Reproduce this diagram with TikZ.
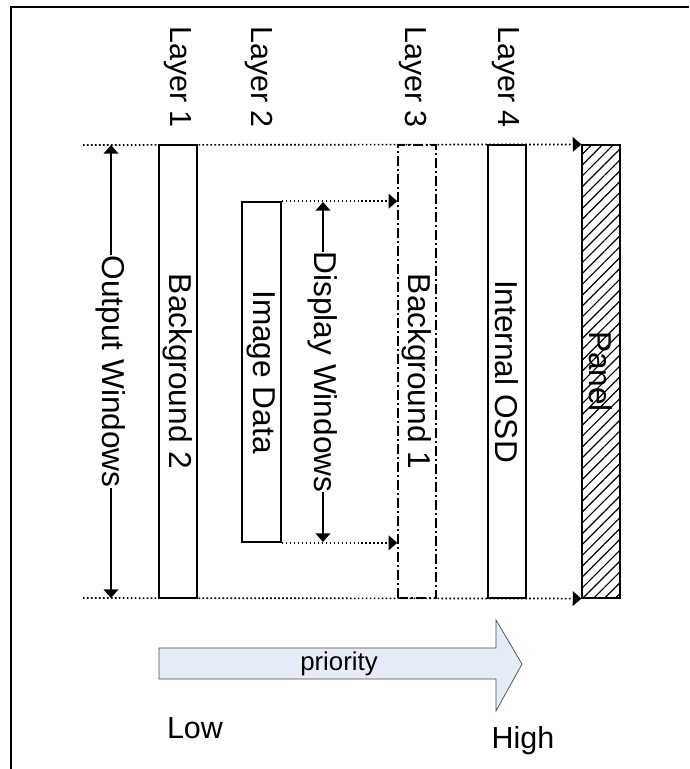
\documentclass[tikz,border=0pt]{standalone}
\usepackage{fontspec}
\setmainfont{Liberation Sans}
\usetikzlibrary{arrows.meta,patterns.meta}
\definecolor{prioblue}{RGB}{230,236,247}

\tikzset{
	layerbox/.style = {draw, line width=1.4pt, inner sep=0pt, minimum width=11.4mm, minimum height=135.9mm},
	vtext/.style = {rotate=-90, font=\fontsize{27}{31}\selectfont, inner sep=1pt},
	guide/.style = {dotted, line width=1.4pt},
	tri/.tip = {Triangle[length=2.6mm,width=4.4mm]},
}

\begin{document}
\begin{tikzpicture}[x=0.3mm, y=-0.3mm]
			\useasboundingbox (0,0) rectangle (689,769);
			\draw[line width=0.75mm] (11,769) -- (11,7) -- (689,7);
			
			\node[vtext, font=\fontsize{26}{30}\selectfont] (l1) at (178,77) {Layer 1};
			\node[vtext, font=\fontsize{26}{30}\selectfont] (l2) at (259,77) {Layer 2};
			\node[vtext, font=\fontsize{26}{30}\selectfont] (l3) at (413,77) {Layer 3};
			\node[vtext, font=\fontsize{26}{30}\selectfont] (l4) at (506,77) {Layer 4};
			
			\node[layerbox] (bg2) at (178,371.5) {};
			\node[layerbox, minimum width=11.7mm, minimum height=102mm] (img) at (261.5,372) {};
			\node[layerbox, line width=1.2pt, dash pattern=on 3mm off 1mm on 0.4mm off 1mm] (bg1) at (417,371.5) {};
			\node[layerbox] (osd) at (507,371.5) {};
			\node[layerbox, pattern={Lines[angle=45,distance=2.3mm,line width=1pt]}] (panel) at (601,371.5) {};
			
			\node[vtext] (bg2t) at (bg2) {Background 2};
			\node[vtext] (imgt) at (img) {Image Data};
			\node[vtext] (bg1t) at (bg1) {Background 1};
			\node[vtext] (osdt) at (osd) {Internal OSD};
			\node[vtext] (panelt) at (panel) {Panel};
			
			\coordinate (topl) at (83,145);
			\coordinate (botl) at (83,598);
			\coordinate (owtop) at (111,145);
			\coordinate (owbot) at (111,598);
			\coordinate (dwtop) at (323,202);
			\coordinate (dwbot) at (323,542);
			
			\draw[guide, -tri] (topl) -- (panel.north west);
			\draw[guide, -tri] (botl) -- (panel.south west);
			\draw[guide, -tri] (img.north east) -- (bg1.west |- img.north east);
			\draw[guide, -tri] (img.south east) -- (bg1.west |- img.south east);
			
			\draw[line width=1.4pt, tri-tri] (owtop) -- node[vtext, fill=white, inner sep=0pt] (owt) {Output Windows} (owbot);
			\draw[line width=1.4pt, tri-tri] (dwtop) -- node[vtext, fill=white, inner sep=0pt] (dwt) {Display Windows} (dwbot);
			
			\draw[draw=black!70, line width=0.6pt, fill=prioblue] (159,648) -- (496,648) -- (496,620) -- (522,664) -- (496,711) -- (496,679) -- (159,679) -- cycle;
			\node[font=\fontsize{22}{26}\selectfont] (prio) at (339,664) {priority};
			
			\node[font=\fontsize{26}{30}\selectfont] (low) at (195,728) {Low};
			\node[font=\fontsize{26}{30}\selectfont] (high) at (523,741) {High};
		\end{tikzpicture}
\end{document}
